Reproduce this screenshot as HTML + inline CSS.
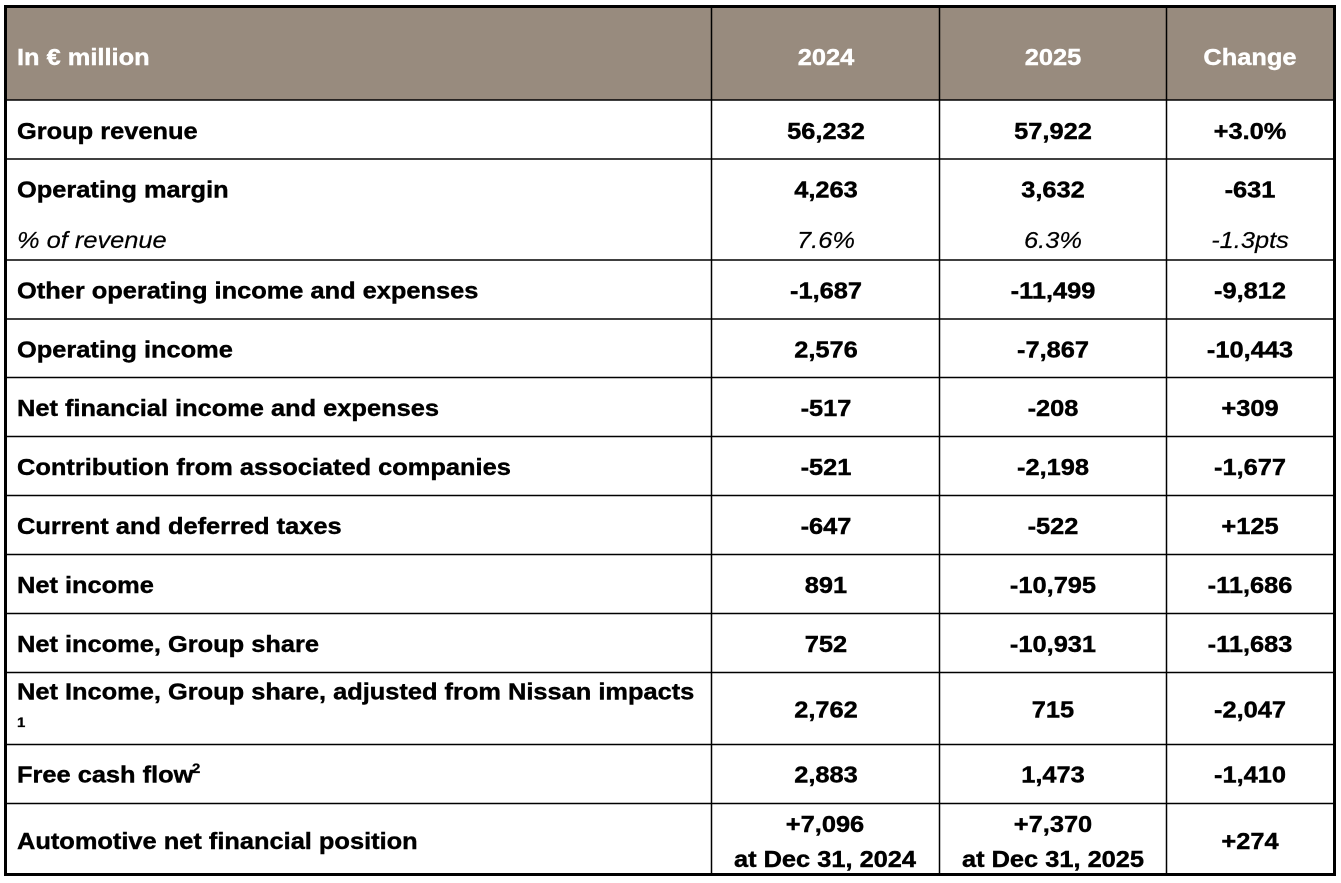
<!DOCTYPE html>
<html>
<head>
<meta charset="utf-8">
<style>
html,body{margin:0;padding:0;background:#fff;}
svg{display:block;}
text{font-family:"Liberation Sans",Arial,sans-serif;font-weight:bold;font-size:25.4px;fill:#000;stroke:#000;stroke-width:0.45px;}
.h{fill:#fff;stroke:#fff;}
.i{font-style:italic;font-weight:normal;stroke-width:0.2px;}
.c{text-anchor:middle;}
</style>
</head>
<body>
<svg width="1341" height="883" viewBox="0 0 1341 883" xmlns="http://www.w3.org/2000/svg">
<rect x="0" y="0" width="1341" height="883" fill="#fff"/>
<rect x="6" y="7" width="1328" height="93" fill="#988b7e"/>
<g stroke="#000" stroke-width="1.5">
<line x1="6" y1="100" x2="1334" y2="100"/>
<line x1="6" y1="159" x2="1334" y2="159"/>
<line x1="6" y1="260" x2="1334" y2="260"/>
<line x1="6" y1="319" x2="1334" y2="319"/>
<line x1="6" y1="377.5" x2="1334" y2="377.5"/>
<line x1="6" y1="436.5" x2="1334" y2="436.5"/>
<line x1="6" y1="495.5" x2="1334" y2="495.5"/>
<line x1="6" y1="554.5" x2="1334" y2="554.5"/>
<line x1="6" y1="613.5" x2="1334" y2="613.5"/>
<line x1="6" y1="672.5" x2="1334" y2="672.5"/>
<line x1="6" y1="744.5" x2="1334" y2="744.5"/>
<line x1="6" y1="803.5" x2="1334" y2="803.5"/>
<line x1="711.5" y1="7" x2="711.5" y2="875"/>
<line x1="939.5" y1="7" x2="939.5" y2="875"/>
<line x1="1166.5" y1="7" x2="1166.5" y2="875"/>
</g>
<rect x="5.5" y="6.5" width="1329" height="868" fill="none" stroke="#000" stroke-width="3"/>

<!-- header -->
<text class="h" transform="translate(17,65) scale(1,.9)">In € million</text>
<text class="h c" transform="translate(826,65) scale(1,.9)">2024</text>
<text class="h c" transform="translate(1053,65) scale(1,.9)">2025</text>
<text class="h c" transform="translate(1250,65) scale(1,.9)">Change</text>

<!-- Group revenue -->
<text transform="translate(17,139) scale(1,.9)">Group revenue</text>
<text class="c" transform="translate(826,139) scale(1,.9)">56,232</text>
<text class="c" transform="translate(1053,139) scale(1,.9)">57,922</text>
<text class="c" transform="translate(1250,139) scale(1,.9)">+3.0%</text>

<!-- Operating margin -->
<text transform="translate(17,197.5) scale(1,.9)">Operating margin</text>
<text class="c" transform="translate(826,197.5) scale(1,.9)">4,263</text>
<text class="c" transform="translate(1053,197.5) scale(1,.9)">3,632</text>
<text class="c" transform="translate(1250,197.5) scale(1,.9)">-631</text>

<text class="i" transform="translate(17,248) scale(1,.9)">% of revenue</text>
<text class="i c" transform="translate(826,248) scale(1,.9)">7.6%</text>
<text class="i c" transform="translate(1053,248) scale(1,.9)">6.3%</text>
<text class="i c" transform="translate(1250,248) scale(1,.9)">-1.3pts</text>

<!-- Other operating -->
<text transform="translate(17,298.5) scale(1,.9)">Other operating income and expenses</text>
<text class="c" transform="translate(826,298.5) scale(1,.9)">-1,687</text>
<text class="c" transform="translate(1053,298.5) scale(1,.9)">-11,499</text>
<text class="c" transform="translate(1250,298.5) scale(1,.9)">-9,812</text>

<!-- Operating income -->
<text transform="translate(17,357.5) scale(1,.9)">Operating income</text>
<text class="c" transform="translate(826,357.5) scale(1,.9)">2,576</text>
<text class="c" transform="translate(1053,357.5) scale(1,.9)">-7,867</text>
<text class="c" transform="translate(1250,357.5) scale(1,.9)">-10,443</text>

<!-- Net financial -->
<text transform="translate(17,416) scale(1,.9)">Net financial income and expenses</text>
<text class="c" transform="translate(826,416) scale(1,.9)">-517</text>
<text class="c" transform="translate(1053,416) scale(1,.9)">-208</text>
<text class="c" transform="translate(1250,416) scale(1,.9)">+309</text>

<!-- Contribution -->
<text transform="translate(17,475) scale(1,.9)">Contribution from associated companies</text>
<text class="c" transform="translate(826,475) scale(1,.9)">-521</text>
<text class="c" transform="translate(1053,475) scale(1,.9)">-2,198</text>
<text class="c" transform="translate(1250,475) scale(1,.9)">-1,677</text>

<!-- Taxes -->
<text transform="translate(17,534) scale(1,.9)">Current and deferred taxes</text>
<text class="c" transform="translate(826,534) scale(1,.9)">-647</text>
<text class="c" transform="translate(1053,534) scale(1,.9)">-522</text>
<text class="c" transform="translate(1250,534) scale(1,.9)">+125</text>

<!-- Net income -->
<text transform="translate(17,593) scale(1,.9)">Net income</text>
<text class="c" transform="translate(826,593) scale(1,.9)">891</text>
<text class="c" transform="translate(1053,593) scale(1,.9)">-10,795</text>
<text class="c" transform="translate(1250,593) scale(1,.9)">-11,686</text>

<!-- Net income group share -->
<text transform="translate(17,652) scale(1,.9)">Net income, Group share</text>
<text class="c" transform="translate(826,652) scale(1,.9)">752</text>
<text class="c" transform="translate(1053,652) scale(1,.9)">-10,931</text>
<text class="c" transform="translate(1250,652) scale(1,.9)">-11,683</text>

<!-- Nissan adjusted -->
<text transform="translate(17,699.5) scale(1,.9)">Net Income, Group share, adjusted from Nissan impacts</text>
<text transform="translate(17,727) scale(1,.9)" style="font-size:15px;stroke-width:0.3px">1</text>
<text class="c" transform="translate(826,717.5) scale(1,.9)">2,762</text>
<text class="c" transform="translate(1053,717.5) scale(1,.9)">715</text>
<text class="c" transform="translate(1250,717.5) scale(1,.9)">-2,047</text>

<!-- Free cash flow -->
<text transform="translate(17,782.5) scale(1,.9)">Free cash flow</text>
<text transform="translate(192,773) scale(1,.9)" style="font-size:15px;stroke-width:0.3px">2</text>
<text class="c" transform="translate(826,782.5) scale(1,.9)">2,883</text>
<text class="c" transform="translate(1053,782.5) scale(1,.9)">1,473</text>
<text class="c" transform="translate(1250,782.5) scale(1,.9)">-1,410</text>

<!-- Automotive -->
<text transform="translate(17,849) scale(1,.9)">Automotive net financial position</text>
<text class="c" transform="translate(825,832) scale(1,.9)">+7,096</text>
<text class="c" transform="translate(825,867) scale(1,.9)">at Dec 31, 2024</text>
<text class="c" transform="translate(1053,832) scale(1,.9)">+7,370</text>
<text class="c" transform="translate(1053,867) scale(1,.9)">at Dec 31, 2025</text>
<text class="c" transform="translate(1250,849) scale(1,.9)">+274</text>
</svg>
</body>
</html>
